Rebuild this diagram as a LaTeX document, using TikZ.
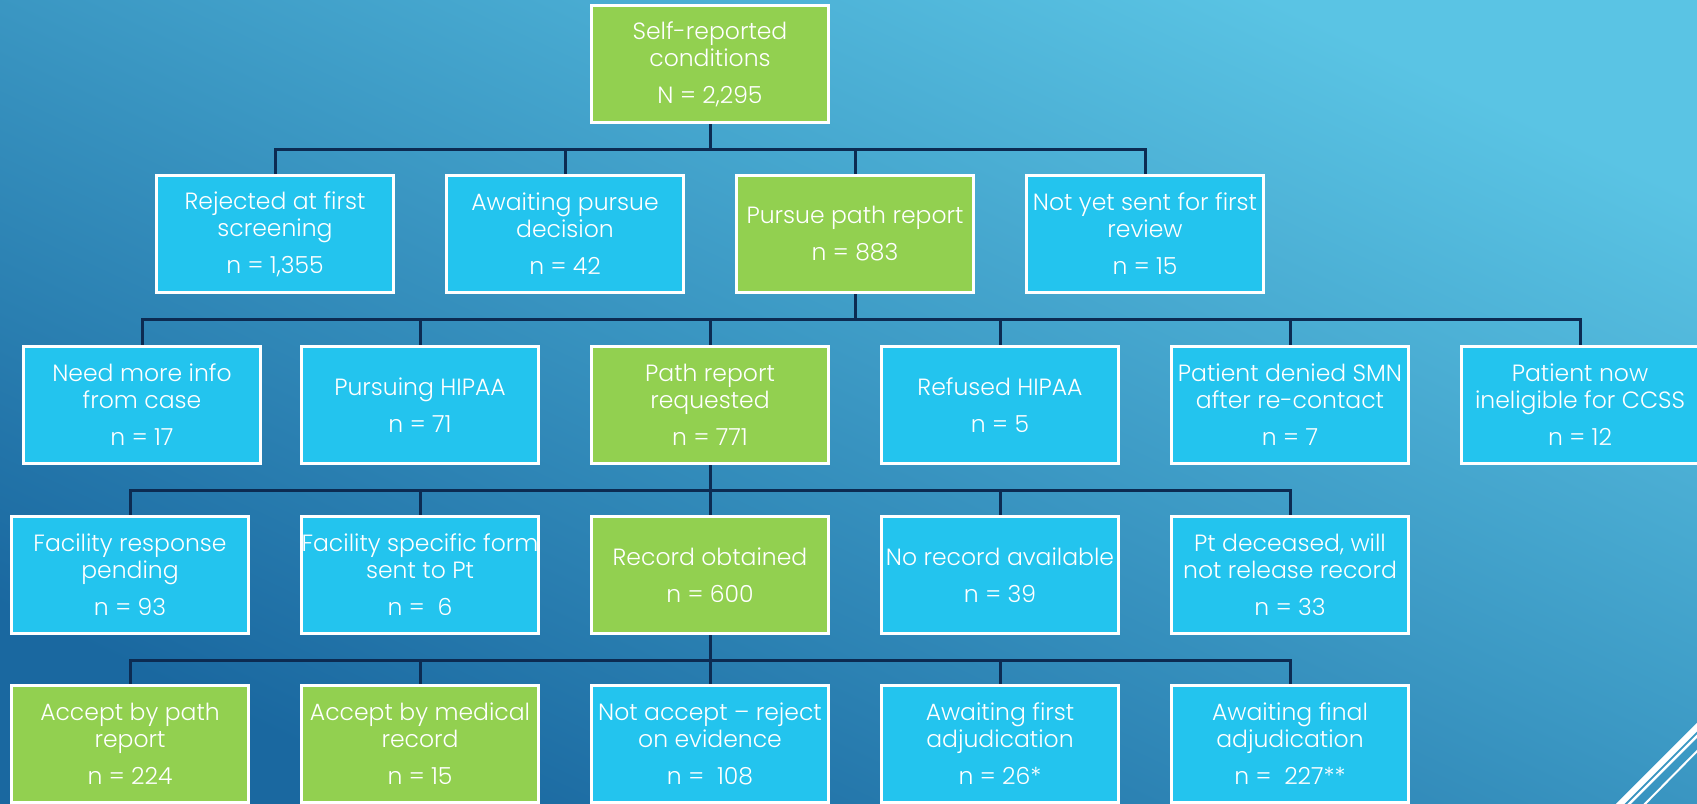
\documentclass[tikz,border=0pt]{standalone}
\usepackage{fontspec}
\IfFontExistsTF{Poppins Light}{\setmainfont{Poppins Light}}{\setmainfont{Poppins}}
\definecolor{skyfill}{HTML}{23C4EE}
\definecolor{leaf}{HTML}{92D050}
\definecolor{navy}{HTML}{0C2B52}
\definecolor{bgtop}{HTML}{5AC4E4}
\definecolor{bgbot}{HTML}{1A68A0}
\tikzset{
  box/.style={draw=white, line width=3pt, minimum width=237pt, minimum height=117pt,
    inner sep=0pt, align=center, text=white, font=\fontsize{23.5}{27}\selectfont},
  bluebox/.style={box, fill=skyfill},
  greenbox/.style={box, fill=leaf},
  link/.style={draw=navy, line width=3pt},
}
\begin{document}
\begin{tikzpicture}[x=1pt,y=-1pt]
	\useasboundingbox (0,0) rectangle (1697,803);
	\shade[top color=bgtop, bottom color=bgbot, shading angle=-25] (0,0) rectangle (1697,803);
	% corner strokes
	\draw[white, line width=6pt] (1611,813) -- (1707,717);
	\draw[white, line width=2.5pt] (1620,813) -- (1707,726);
	\draw[white, line width=2pt] (1636,813) -- (1707,741);
	% level 0
	\node[greenbox] (self) at (710,64) {Self-reported\\conditions\\[10pt]N = 2,295};
	% level 1
	\node[bluebox] (reject) at (275,234) {Rejected at first\\screening\\[10pt]n = 1,355};
	\node[bluebox] (await) at (565,234) {Awaiting pursue\\decision\\[10pt]n = 42};
	\node[greenbox] (pursue) at (855,234) {Pursue path report\\[10pt]n = 883};
	\node[bluebox] (notyet) at (1145,234) {Not yet sent for first\\review\\[10pt]n = 15};
	% level 2
	\node[bluebox] (moreinfo) at (142,405) {Need more info\\from case\\[10pt]n = 17};
	\node[bluebox] (hipaa) at (420,405) {Pursuing HIPAA\\[10pt]n = 71};
	\node[greenbox] (requested) at (710,405) {Path report\\requested\\[10pt]n = 771};
	\node[bluebox] (refused) at (1000,405) {Refused HIPAA\\[10pt]n = 5};
	\node[bluebox] (denied) at (1290,405) {Patient denied SMN\\after re-contact\\[10pt]n = 7};
	\node[bluebox] (inelig) at (1580,405) {Patient now\\ineligible for CCSS\\[10pt]n = 12};
	% level 3
	\node[bluebox] (pending) at (130,575) {Facility response\\pending\\[10pt]n = 93};
	\node[bluebox] (formsent) at (420,575) {Facility specific form\\sent to Pt\\[10pt]n = \ 6};
	\node[greenbox] (obtained) at (710,575) {Record obtained\\[10pt]n = 600};
	\node[bluebox] (norecord) at (1000,575) {No record available\\[10pt]n = 39};
	\node[bluebox] (deceased) at (1290,575) {Pt deceased, will\\not release record\\[10pt]n = 33};
	% level 4
	\node[greenbox] (bypath) at (130,744) {Accept by path\\report\\[10pt]n = 224};
	\node[greenbox] (bymed) at (420,744) {Accept by medical\\record\\[10pt]n = 15};
	\node[bluebox] (noaccept) at (710,744) {Not accept – reject\\on evidence\\[10pt]n = \ 108};
	\node[bluebox] (firstadj) at (1000,744) {Awaiting first\\adjudication\\[10pt]n = 26*};
	\node[bluebox] (finaladj) at (1290,744) {Awaiting final\\adjudication\\[10pt]n = \ 227**};
	% connectors
	\foreach \c in {reject,await,pursue,notyet}
		\draw[link] (self.south) -- ++(0,25) -| (\c.north);
	\foreach \c in {moreinfo,hipaa,requested,refused,denied,inelig}
		\draw[link] (pursue.south) -- ++(0,25) -| (\c.north);
	\foreach \c in {pending,formsent,obtained,norecord,deceased}
		\draw[link] (requested.south) -- ++(0,25) -| (\c.north);
	\foreach \c in {bypath,bymed,noaccept,firstadj,finaladj}
		\draw[link] (obtained.south) -- ++(0,25) -| (\c.north);
\end{tikzpicture}
\end{document}
